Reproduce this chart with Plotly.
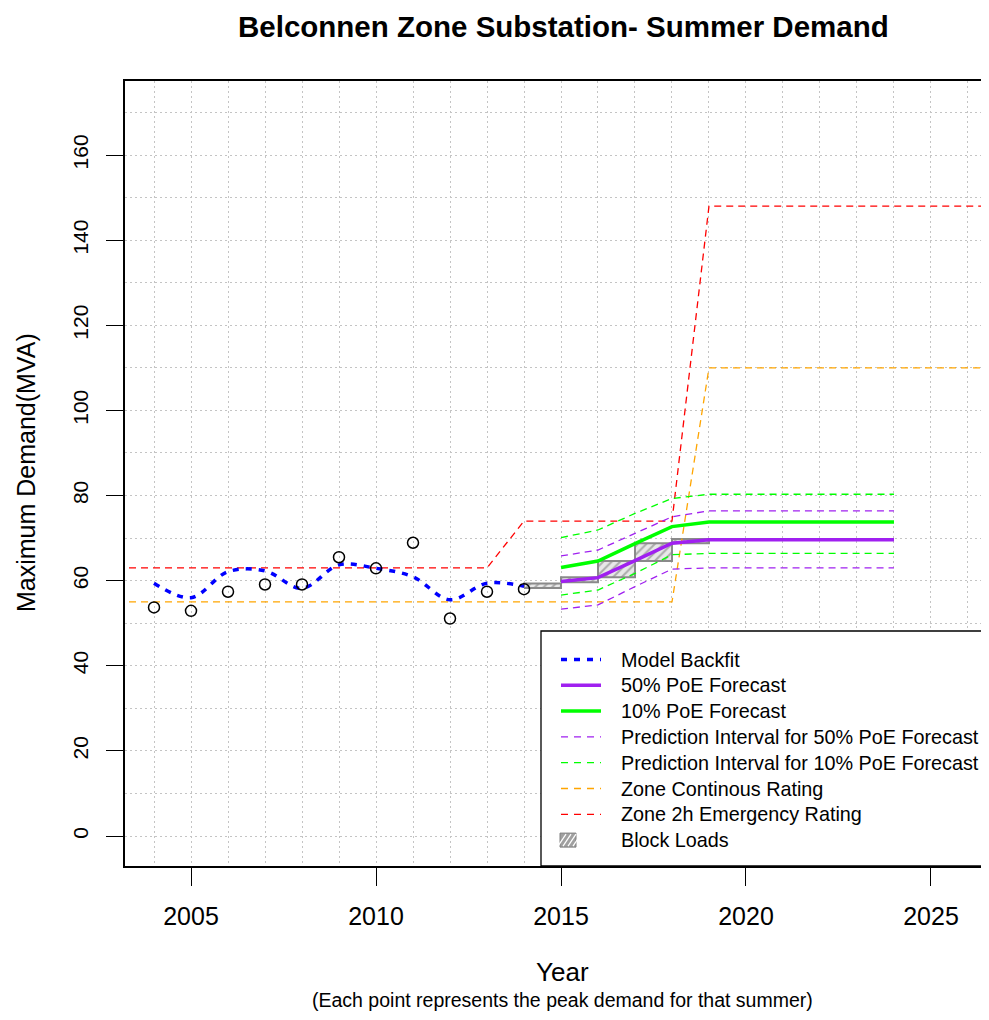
import plotly.graph_objects as go

# ---------------- data ----------------
obs_years = [2004, 2005, 2006, 2007, 2008, 2009, 2010, 2011, 2012, 2013, 2014]
obs_demand = [53.7, 52.9, 57.4, 59.1, 59.1, 65.5, 62.9, 68.9, 51.1, 57.4, 58.0]
backfit = [59.4, 56.0, 62.1, 62.3, 58.2, 63.7, 62.9, 60.9, 55.5, 59.4, 58.7]

fc_years = [2015, 2016, 2017, 2018, 2019, 2020, 2021, 2022, 2023, 2024]
poe50 = [59.8, 60.7, 64.7, 68.8, 69.6, 69.6, 69.6, 69.6, 69.6, 69.6]
poe10 = [63.1, 64.6, 68.7, 72.7, 73.8, 73.8, 73.8, 73.8, 73.8, 73.8]
pi50_hi = [65.8, 67.2, 71.1, 75.0, 76.4, 76.4, 76.4, 76.4, 76.4, 76.4]
pi50_lo = [53.3, 54.3, 58.6, 62.7, 63.0, 63.0, 63.0, 63.0, 63.0, 63.0]
pi10_hi = [70.1, 71.9, 75.8, 79.3, 80.3, 80.3, 80.3, 80.3, 80.3, 80.3]
pi10_lo = [56.6, 57.8, 61.7, 66.1, 66.4, 66.4, 66.4, 66.4, 66.4, 66.4]

cont_years = [2003, 2018, 2019, 2027]
cont_rating = [55, 55, 110, 110]
emerg_years = [2003, 2013, 2014, 2018, 2019, 2027]
emerg_rating = [63, 63, 74, 74, 148, 148]

block_years = [2014, 2015, 2016, 2017, 2018]
block_low = [58.3, 59.6, 60.8, 64.6, 68.8]
block_high = [59.3, 60.8, 64.6, 68.8, 69.8]

x_tick_vals = [2005, 2010, 2015, 2020, 2025]
y_tick_vals = [0, 20, 40, 60, 80, 100, 120, 140, 160]

legend_labels = ["Model Backfit", "50% PoE Forecast", "10% PoE Forecast",
                 "Prediction Interval for 50% PoE Forecast",
                 "Prediction Interval for 10% PoE Forecast",
                 "Zone Continous Rating", "Zone 2h Emergency Rating", "Block Loads"]

# ---------------- styling ----------------
OFF = 8  # page body margin
W, H = 989 - OFF, 1020 - 2 * OFF
PL, PR, PT, PB = 125, 989, 81, 866   # plot box in page pixels
L, R, T, B = PL - OFF, 0, PT - OFF, H - (PB - OFF)
BLUE, PURPLE, GREEN, ORANGE, RED = "#0000FF", "#A020F0", "#00FF00", "#FFA500", "#FF0000"
FONT = "Liberation Sans, Arial, sans-serif"
THIN_DASH = "7px,5px"


def pxx(p):
    return (p - PL) / (PR - PL)


def pxy(p):
    return (PB - p) / (PB - PT)


fig = go.Figure()

# block loads (hatched)
for yr, lo, hi in zip(block_years, block_low, block_high):
    fig.add_trace(go.Scatter(
        x=[yr, yr + 1, yr + 1, yr, yr], y=[lo, lo, hi, hi, lo],
        mode="lines", fill="toself",
        fillpattern=dict(shape="/", fgcolor="#6e6e6e", bgcolor="#e8e8e8", size=6, solidity=0.35),
        line=dict(color="#8a8a8a", width=2), showlegend=False, hoverinfo="skip"))

# ratings
fig.add_trace(go.Scatter(x=cont_years, y=cont_rating, mode="lines",
                         line=dict(color=ORANGE, width=1.3, dash=THIN_DASH), showlegend=False))
fig.add_trace(go.Scatter(x=emerg_years, y=emerg_rating, mode="lines",
                         line=dict(color=RED, width=1.3, dash=THIN_DASH), showlegend=False))

# prediction intervals
for arr, col in [(pi50_hi, PURPLE), (pi50_lo, PURPLE), (pi10_hi, GREEN), (pi10_lo, GREEN)]:
    fig.add_trace(go.Scatter(x=fc_years, y=arr, mode="lines",
                             line=dict(color=col, width=1.3, dash=THIN_DASH), showlegend=False))

# forecasts
fig.add_trace(go.Scatter(x=fc_years, y=poe10, mode="lines",
                         line=dict(color=GREEN, width=3.5), showlegend=False))
fig.add_trace(go.Scatter(x=fc_years, y=poe50, mode="lines",
                         line=dict(color=PURPLE, width=3.5), showlegend=False))

# backfit
fig.add_trace(go.Scatter(x=obs_years, y=backfit, mode="lines",
                         line=dict(color=BLUE, width=3.5, dash="6px,7px", shape="spline", smoothing=1.0),
                         showlegend=False))

# observed points
fig.add_trace(go.Scatter(x=obs_years, y=obs_demand, mode="markers",
                         marker=dict(symbol="circle-open", size=11, color="black", line=dict(width=1.5)),
                         showlegend=False))

# ---------------- custom legend ----------------
shapes = []
annotations = []
shapes.append(dict(type="rect", xref="paper", yref="paper",
                   x0=pxx(541), x1=pxx(1010), y0=pxy(866), y1=pxy(631),
                   fillcolor="white", line=dict(color="black", width=1.3), layer="above"))
leg_styles = [
    dict(color=BLUE, width=3.5, dash="6px,7px"),
    dict(color=PURPLE, width=3.5, dash="solid"),
    dict(color=GREEN, width=3.5, dash="solid"),
    dict(color=PURPLE, width=1.3, dash="7px,6px"),
    dict(color=GREEN, width=1.3, dash="7px,6px"),
    dict(color=ORANGE, width=1.3, dash="7px,6px"),
    dict(color=RED, width=1.3, dash="7px,6px"),
    None,
]
row0, rstep = 659.5, 25.8
for i, (lab, st) in enumerate(zip(legend_labels, leg_styles)):
    yy = row0 + i * rstep
    if st is not None:
        shapes.append(dict(type="line", xref="paper", yref="paper",
                           x0=pxx(561), x1=pxx(601), y0=pxy(yy), y1=pxy(yy),
                           line=st, layer="above"))
    else:
        shapes.append(dict(type="rect", xref="paper", yref="paper",
                           x0=pxx(560), x1=pxx(576), y0=pxy(yy + 7), y1=pxy(yy - 7),
                           fillcolor="#a0a0a0", line=dict(color="#808080", width=1), layer="above"))
        for k in range(4):
            a = 560 + k * 5
            shapes.append(dict(type="line", xref="paper", yref="paper",
                               x0=pxx(a - 2), y0=pxy(yy + 6), x1=pxx(a + 6), y1=pxy(yy - 6),
                               line=dict(color="white", width=1.2), layer="above"))
    annotations.append(dict(text=lab, xref="paper", yref="paper", x=pxx(619), y=pxy(yy),
                            xanchor="left", yanchor="middle", showarrow=False,
                            font=dict(family=FONT, size=19.8, color="black")))

# titles
annotations.append(dict(text="<b>Belconnen Zone Substation- Summer Demand</b>", xref="paper", yref="paper",
                        x=pxx(563), y=pxy(26), xanchor="center", yanchor="middle", showarrow=False,
                        font=dict(family=FONT, size=29.5, color="black")))
annotations.append(dict(text="Year", xref="paper", yref="paper",
                        x=pxx(562), y=pxy(972), xanchor="center", yanchor="middle", showarrow=False,
                        font=dict(family=FONT, size=26, color="black")))
annotations.append(dict(text="(Each point represents the peak demand for that summer)", xref="paper",
                        yref="paper", x=pxx(562), y=pxy(1000), xanchor="center", yanchor="middle",
                        showarrow=False, font=dict(family=FONT, size=19.5, color="black")))
annotations.append(dict(text="Maximum Demand(MVA)", xref="paper", yref="paper",
                        x=pxx(26), y=pxy(473), xanchor="center", yanchor="middle", textangle=-90,
                        showarrow=False, font=dict(family=FONT, size=25, color="black")))

GRID = "#c4c4c4"
fig.update_layout(
    width=W, height=H, margin=dict(l=L, r=R, t=T, b=B, pad=0),
    paper_bgcolor="white", plot_bgcolor="white",
    font=dict(family=FONT, color="black"),
    shapes=shapes, annotations=annotations, showlegend=False,
    xaxis=dict(range=[2003.216, 2026.568], tickmode="array", tickvals=x_tick_vals,
               ticks="outside", ticklen=18, tickwidth=1.3, tickcolor="black",
               showline=True, linecolor="black", linewidth=1.5, mirror=True,
               showgrid=True, gridcolor=GRID, griddash="2px,3px", gridwidth=1,
               minor=dict(tickmode="linear", tick0=2004, dtick=1, showgrid=True,
                          gridcolor=GRID, griddash="2px,3px", gridwidth=1, ticks=""),
               zeroline=False, tickfont=dict(size=25, family=FONT), ticklabelstandoff=9),
    yaxis=dict(range=[-7.05, 177.4], tickmode="array", tickvals=y_tick_vals, tickangle=-90,
               ticks="outside", ticklen=17, tickwidth=1.3, tickcolor="black",
               showline=True, linecolor="black", linewidth=1.5, mirror=False,
               showgrid=True, gridcolor=GRID, griddash="2px,3px", gridwidth=1,
               minor=dict(tickmode="linear", tick0=0, dtick=10, showgrid=True,
                          gridcolor=GRID, griddash="2px,3px", gridwidth=1, ticks=""),
               zeroline=False, tickfont=dict(size=21, family=FONT), ticklabelstandoff=10),
)

fig.write_html("out.html")
